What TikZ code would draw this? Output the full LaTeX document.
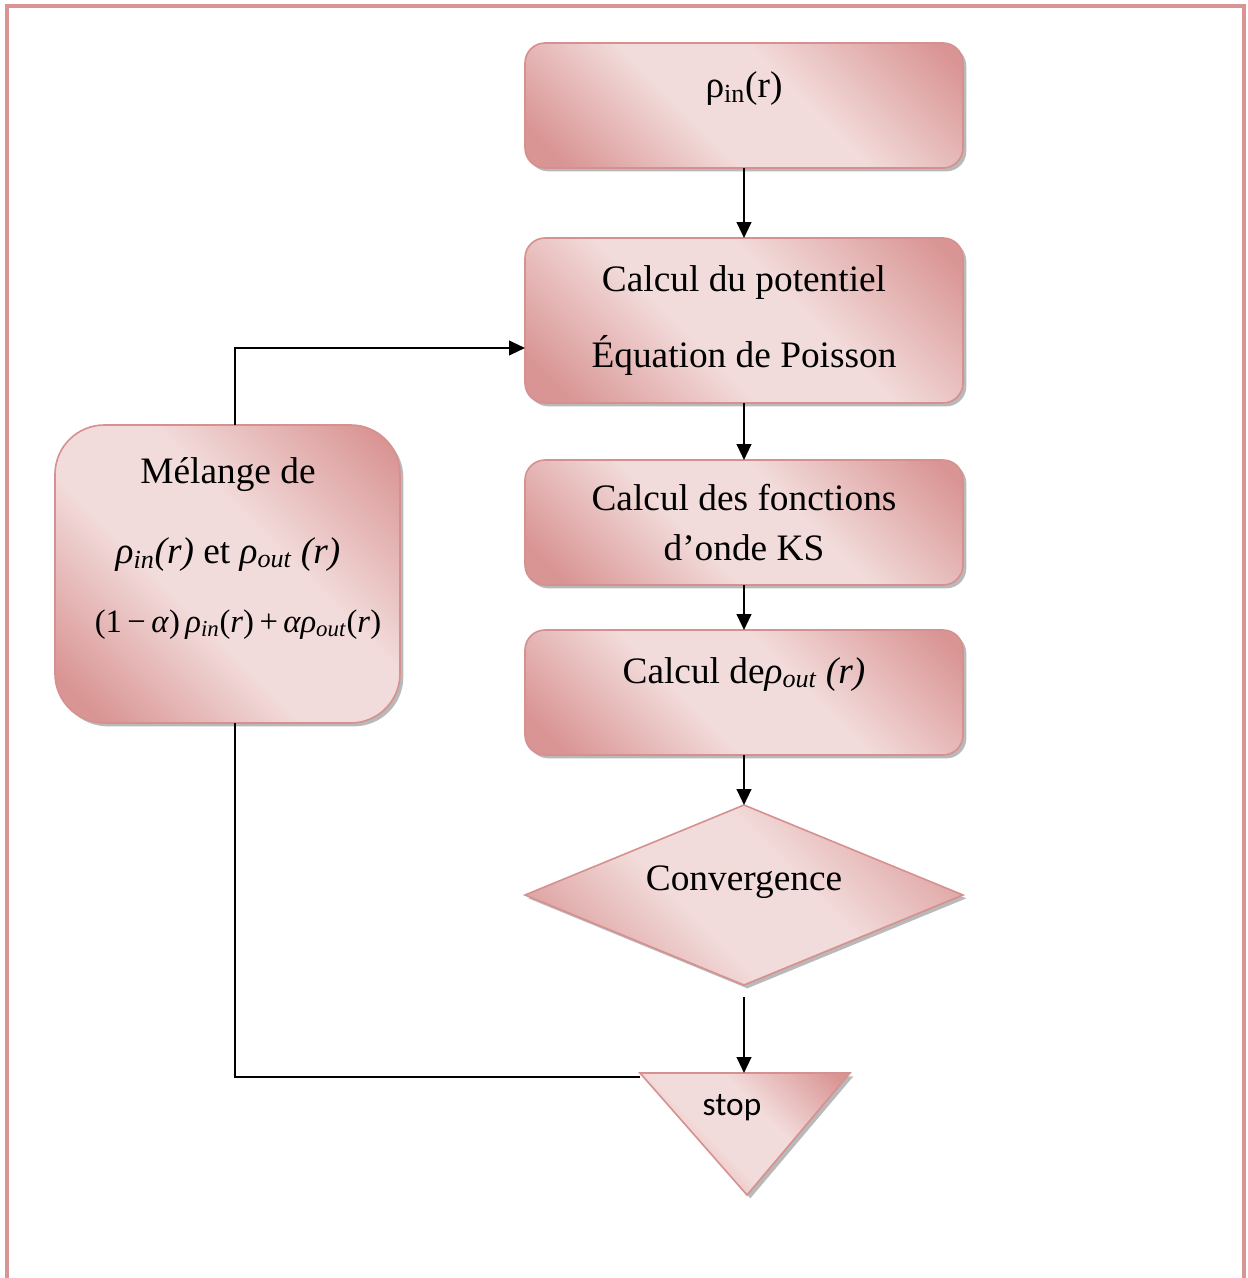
\documentclass[tikz,border=0pt]{standalone}
\usepackage{fontspec}
\setmainfont{Liberation Serif}
\newfontfamily\stopfont{Carlito}
\usetikzlibrary{shapes.geometric,shadows,arrows.meta}

\definecolor{roseD}{HTML}{D99594}
\definecolor{roseL}{HTML}{F2DCDB}
\definecolor{roseB}{HTML}{D6908F}

% light band across the middle, darker towards two opposite corners
\pgfdeclarehorizontalshading{rosegrad}{100bp}{color(0bp)=(roseD); color(20bp)=(roseD); color(42bp)=(roseL); color(58bp)=(roseL); color(82bp)=(roseD); color(100bp)=(roseD)}

\tikzset{
  rosefill/.style={draw=roseB, line width=1.2pt, shade, shading=rosegrad, shading angle=45,
    drop shadow={shadow xshift=2.5pt, shadow yshift=-2.5pt, fill=black!55, opacity=.5}},
  box/.style={rosefill, rectangle, rounded corners=15pt, minimum width=328.5pt,
    inner sep=0pt, outer sep=0pt},
  dia/.style={rosefill, diamond, minimum width=328.5pt, minimum height=135pt,
    inner sep=0pt, outer sep=0pt},
  lbl/.style={font=\fontsize{28}{32}\selectfont, anchor=base, inner sep=0pt},
  arr/.style={-{Triangle[length=12pt,width=11pt]}, line width=1.6pt},
  wire/.style={line width=1.6pt},
  frameline/.style={draw=roseD, line width=3pt}
}

\begin{document}
\begin{tikzpicture}[x=0.75pt, y=-0.75pt]
\useasboundingbox (0,0) rectangle (1247,1278);

% page frame, open at the bottom
\draw[frameline] (7,1278) -- (7,6) -- (1244,6) -- (1244,1278);

% main column
\node[box, minimum height=93.75pt]  (b1) at (744,105.5) {};
\node[box, minimum height=123.75pt] (b2) at (744,320.5) {};
\node[box, minimum height=93.75pt]  (b3) at (744,522.5) {};
\node[box, minimum height=93.75pt]  (b4) at (744,692.5) {};
\node[dia] (conv) at (744,895) {};

% stop triangle
\path[rosefill] (640,1073) coordinate (s1) -- (850,1073) coordinate (s2)
  -- (747,1195) coordinate (s3) -- cycle;

% mixing box
\node[box, rounded corners=37pt, minimum width=258.75pt, minimum height=223.5pt] (mix) at (227.5,574) {};

% texts
\node[lbl] (tb1) at (744,97) {ρ\textsubscript{in}(r)};
\node[lbl] (tb2a) at (744,291) {Calcul du potentiel};
\node[lbl] (tb2b) at (744,367) {Équation de Poisson};
\node[lbl] (tb3a) at (744,510) {Calcul des fonctions};
\node[lbl] (tb3b) at (744,560) {d’onde KS};
\node[lbl] (tb4) at (744,683) {Calcul de\textit{ρ\textsubscript{out} (r)}};
\node[lbl] (tconv) at (744,890) {Convergence};
\node[lbl, font=\stopfont\fontsize{25}{30}\selectfont] (tstop) at (732,1115) {stop};
\node[lbl] (tmix1) at (228,483) {Mélange de};
\node[lbl] (tmix2) at (228,563) {\textit{ρ\textsubscript{in}(r)} et \textit{ρ\textsubscript{out} (r)}};
\node[lbl, font=\fontsize{24.5}{28}\selectfont] (tmix3) at (238,632)
  {(1\,−\,\textit{α})\,\textit{ρ}\textsubscript{\textit{in}}(\textit{r})\,+\,\textit{αρ}\textsubscript{\textit{out}}(\textit{r})};

% connectors
\coordinate (lx) at (235,0);
\coordinate (ly) at (0,348);
\coordinate (ry) at (0,1077);
\draw[arr] (b1.south) -- (b2.north);
\draw[arr] (b2.south) -- (b3.north);
\draw[arr] (b3.south) -- (b4.north);
\draw[arr] (b4.south) -- (conv.north);
\draw[arr] ([yshift=-9pt]conv.south) -- (conv.south |- s1);
\draw[arr] (mix.north -| lx) |- (b2.west |- ly);
\draw[wire] (s1 |- ry) -| (mix.south -| lx);
\end{tikzpicture}
\end{document}
